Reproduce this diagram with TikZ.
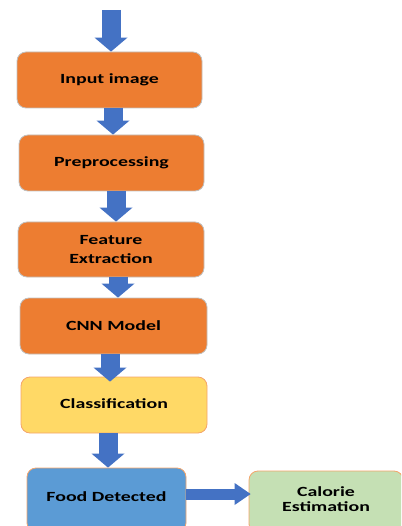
\documentclass[tikz,border=0pt]{standalone}
\usepackage{fontspec}
\setmainfont{Carlito}
\usetikzlibrary{arrows.meta}
\definecolor{orng}{HTML}{ED7D31}
\definecolor{ylw}{HTML}{FFD966}
\definecolor{blu}{HTML}{5B9BD5}
\definecolor{grn}{HTML}{C5E0B4}
\definecolor{arr}{HTML}{4472C4}
\definecolor{edgeg}{HTML}{C0C0C0}
\definecolor{edgeo}{HTML}{F4A46A}
\newcommand\wtxt[1]{\scalebox{1.42}[1]{#1}}
\begin{document}
\begin{tikzpicture}[x=1pt,y=-1pt,
  box/.style={rectangle, rounded corners=9pt, line width=0.8pt, minimum width=185pt, minimum height=56pt,
    inner sep=0pt, font=\fontsize{14}{19}\selectfont\bfseries, text=black, align=center},
  obox/.style={box, fill=orng, draw=edgeg},
  cbox/.style={box, draw=edgeo},
  blk/.style={draw=arr, line width=19pt, -{Triangle[width=33pt,length=14pt,line width=0pt]}},
  hblk/.style={draw=arr, line width=11pt, -{Triangle[width=22pt,length=16pt,line width=0pt]}}]
\useasboundingbox (0,0) rectangle (401,526);
\clip (0,0) rectangle (401,526);
\node[obox] (b1) at (109.5,80) {\raisebox{1.5pt}{\wtxt{Input image}}};
\node[obox] (b2) at (111.5,163) {\raisebox{1.5pt}{\wtxt{Preprocessing}}};
\node[obox, minimum width=186pt, minimum height=55pt] (b3) at (111,249.5) {\wtxt{Feature}\\\wtxt{Extraction}};
\node[obox, minimum width=187pt] (b4) at (113.5,326) {\raisebox{1pt}{\wtxt{CNN Model}}};
\node[cbox, fill=ylw, minimum width=186pt] (b5) at (114,405) {\raisebox{2pt}{\wtxt{Classification}}};
\node[cbox, fill=blu, minimum width=159pt, minimum height=64pt] (b6) at (106.5,500) {\raisebox{7pt}{\wtxt{Food Detected}}};
\node[cbox, fill=grn, minimum width=154pt, minimum height=62pt] (b7) at (326,502) {\raisebox{6pt}{\shortstack{\wtxt{Calorie}\\[2pt]\wtxt{Estimation}}}};
\coordinate (top) at (111,10);
\coordinate (ax2) at (113,0);
\coordinate (ax3) at (116,0);
\coordinate (ax4) at (118,0);
\coordinate (ax5) at (110,0);
\coordinate (ax6) at (108,0);
\coordinate (hy) at (0,494);
\draw[blk] (top) -- (b1.north -| top);
\draw[blk] (b1.south -| ax2) -- (b2.north -| ax2);
\draw[blk] (b2.south -| ax3) -- (b3.north -| ax3);
\draw[blk] (b3.south -| ax4) -- (b4.north -| ax4);
\draw[blk] (b4.south -| ax5) -- ([yshift=-5pt]b5.north -| ax5);
\draw[blk] (b5.south -| ax6) -- (b6.north -| ax6);
\draw[hblk] (b6.east |- hy) -- ([xshift=2pt]b7.west |- hy);
\end{tikzpicture}
\end{document}
